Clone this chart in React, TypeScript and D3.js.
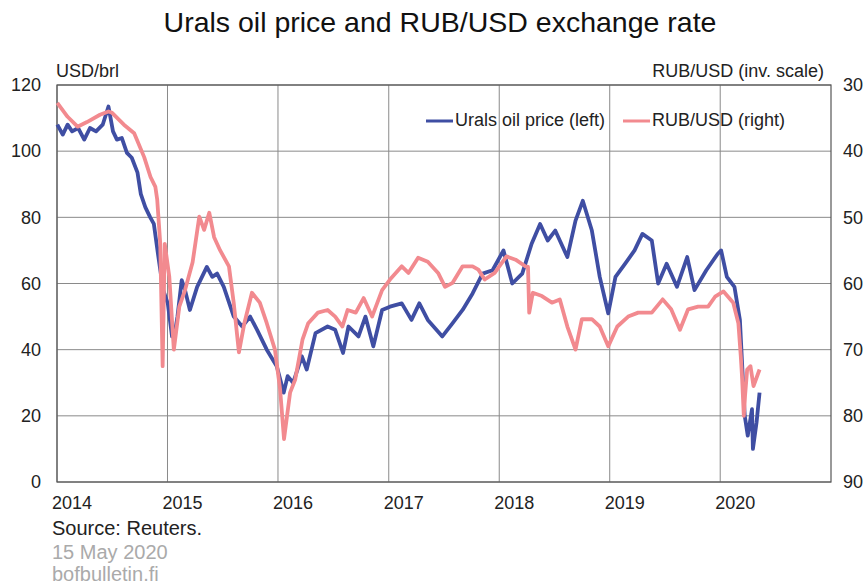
import React, { useEffect } from 'react';
import * as d3 from 'd3';

const uralsDates = [
  '2014-01-02', '2014-01-20', '2014-02-05', '2014-02-20', '2014-03-12', '2014-04-01', '2014-04-20', '2014-05-10',
  '2014-06-01', '2014-06-20', '2014-07-05', '2014-07-18', '2014-08-03', '2014-08-20', '2014-09-05', '2014-09-24',
  '2014-10-05', '2014-10-20', '2014-11-05', '2014-11-17', '2014-12-02', '2014-12-18', '2015-01-02', '2015-01-16',
  '2015-01-27', '2015-02-03', '2015-02-17', '2015-02-28', '2015-03-16', '2015-04-09', '2015-05-11', '2015-05-29',
  '2015-06-14', '2015-07-06', '2015-08-08', '2015-09-05', '2015-10-01', '2015-10-24', '2015-11-25', '2015-12-28',
  '2016-01-20', '2016-02-02', '2016-02-20', '2016-03-20', '2016-04-05', '2016-05-04', '2016-06-13', '2016-07-08',
  '2016-08-03', '2016-08-21', '2016-09-23', '2016-10-16', '2016-11-11', '2016-12-10', '2017-01-05', '2017-02-13',
  '2017-03-17', '2017-04-12', '2017-05-10', '2017-06-27', '2017-07-31', '2017-09-02', '2017-10-05', '2017-11-07',
  '2017-12-10', '2018-01-15', '2018-02-13', '2018-03-18', '2018-04-18', '2018-05-16', '2018-06-10', '2018-07-05',
  '2018-08-14', '2018-09-10', '2018-10-04', '2018-11-03', '2018-11-29', '2018-12-27', '2019-01-20', '2019-02-21',
  '2019-03-24', '2019-04-19', '2019-05-20', '2019-06-10', '2019-07-08', '2019-08-11', '2019-09-14', '2019-10-08',
  '2019-11-16', '2019-12-24', '2020-01-04', '2020-01-23', '2020-02-17', '2020-03-06', '2020-03-22', '2020-04-01',
  '2020-04-15', '2020-04-18', '2020-04-30', '2020-05-10',
];
const uralsValues = [
  108, 105, 108, 106, 107, 103.5, 107, 106,
  108, 113.5, 106, 103.5, 104, 99.5, 98, 93.5,
  87, 83, 80, 78, 68, 58, 54, 44,
  46, 50, 61, 58, 52, 59, 65, 62,
  63, 59, 50, 47, 50, 46, 40, 35,
  27, 32, 30, 38, 34, 45, 47, 46,
  39, 47, 44, 50, 41, 52, 53, 54,
  49, 54, 49, 44, 48, 52, 57, 63,
  64, 70, 60, 63, 72, 78, 73, 76,
  68, 79, 85, 76, 62, 51, 62, 66,
  70, 75, 73, 60, 66, 59, 68, 58,
  64, 69, 70, 62, 59, 49, 20, 14,
  22, 10, 18, 27,
];

const rubDates = [
  '2014-01-02', '2014-02-05', '2014-03-10', '2014-04-10', '2014-05-23', '2014-06-20', '2014-07-02', '2014-08-10',
  '2014-09-13', '2014-10-16', '2014-11-06', '2014-11-22', '2014-11-28', '2014-12-08', '2014-12-16', '2014-12-23',
  '2015-01-07', '2015-01-22', '2015-02-09', '2015-02-28', '2015-03-25', '2015-04-16', '2015-05-02', '2015-05-19',
  '2015-06-04', '2015-06-24', '2015-07-23', '2015-08-08', '2015-08-25', '2015-09-12', '2015-10-07', '2015-11-02',
  '2015-11-25', '2015-12-22', '2016-01-08', '2016-01-21', '2016-02-10', '2016-02-27', '2016-03-22', '2016-04-10',
  '2016-05-12', '2016-06-13', '2016-07-08', '2016-08-01', '2016-08-18', '2016-09-14', '2016-10-10', '2016-11-07',
  '2016-12-10', '2017-01-05', '2017-02-13', '2017-03-07', '2017-04-08', '2017-05-10', '2017-06-13', '2017-07-06',
  '2017-07-31', '2017-09-02', '2017-10-05', '2017-10-24', '2017-11-14', '2017-12-17', '2018-01-25', '2018-02-24',
  '2018-03-28', '2018-04-06', '2018-04-10', '2018-04-22', '2018-05-22', '2018-06-24', '2018-07-20', '2018-08-14',
  '2018-09-10', '2018-10-01', '2018-11-03', '2018-11-29', '2018-12-27', '2019-01-26', '2019-03-03', '2019-04-05',
  '2019-05-20', '2019-06-25', '2019-07-23', '2019-08-21', '2019-09-17', '2019-10-20', '2019-11-22', '2019-12-15',
  '2020-01-12', '2020-02-13', '2020-03-01', '2020-03-09', '2020-03-13', '2020-03-19', '2020-03-23', '2020-03-30',
  '2020-04-10', '2020-04-20', '2020-05-10',
];
const rubValues = [
  32.7, 34.8, 36.3, 35.6, 34.5, 34.0, 34.2, 36,
  37.3, 40.9, 43.9, 45.4, 47.3, 53.9, 72.5, 54,
  59, 70, 63.5, 61, 56.8, 49.9, 51.9, 49.3,
  53, 55, 57.4, 63, 70.4, 66, 61.4, 62.9,
  66, 70, 76, 83.5, 76.5, 74.5, 68.5, 66,
  64.4, 64, 65, 66.5, 64, 64.4, 62.2, 65,
  61, 59.4, 57.4, 58.4, 56.1, 56.7, 58.4, 60.5,
  59.9, 57.4, 57.4, 57.9, 59.4, 58.4, 55.9, 56.4,
  57.4, 57.5, 64.4, 61.4, 61.9, 62.9, 62.4, 66.5,
  70, 65.4, 65.4, 66.5, 69.5, 66.5, 65, 64.4,
  64.4, 62.4, 63.9, 67, 63.9, 63.5, 63.5, 62,
  61.2, 62.9, 66, 71, 74, 80, 77, 73,
  72.5, 75.5, 73,
];

const yearTicks = [2014, 2015, 2016, 2017, 2018, 2019, 2020];
const leftTicks = [0, 20, 40, 60, 80, 100, 120];
const rightTicks = [30, 40, 50, 60, 70, 80, 90];

const FONT = '"Liberation Sans", Arial, Helvetica, sans-serif';
const BLUE = '#3f4ea3';
const PINK = '#f28a8f';

export default function App() {
  useEffect(() => {
    document.body.style.margin = '0';
  }, []);

  const width = 868;
  const height = 586;
  const m = { left: 57, right: 831, top: 85, bottom: 482 };

  const parse = d3.timeParse('%Y-%m-%d');
  const x = d3
    .scaleTime()
    .domain([new Date(2014, 0, 1), new Date(2021, 0, 1)])
    .range([m.left, m.right]);
  const yL = d3.scaleLinear().domain([0, 120]).range([m.bottom, m.top]);
  const yR = d3.scaleLinear().domain([90, 30]).range([m.bottom, m.top]);

  const urals = uralsDates.map((d, i) => [parse(d) as Date, uralsValues[i]] as [Date, number]);
  const rub = rubDates.map((d, i) => [parse(d) as Date, rubValues[i]] as [Date, number]);

  const lineL = d3.line<[Date, number]>().x((d) => x(d[0])).y((d) => yL(d[1]));
  const lineR = d3.line<[Date, number]>().x((d) => x(d[0])).y((d) => yR(d[1]));

  return (
    <svg width={width} height={height} style={{ display: 'block', background: '#fff' }} fontFamily={FONT}>
      <text x={440} y={32} textAnchor="middle" fontSize={28.5} fill="#111">
        Urals oil price and RUB/USD exchange rate
      </text>
      <text x={56} y={77} fontSize={18} fill="#222">USD/brl</text>
      <text x={824} y={77} fontSize={18} fill="#222" textAnchor="end">RUB/USD (inv. scale)</text>

      {leftTicks.map((t) => (
        <g key={'l' + t}>
          <line x1={m.left} x2={m.right} y1={yL(t)} y2={yL(t)} stroke="#8a8a8a" strokeWidth={1} />
          <text x={41} y={yL(t)} dy="0.35em" textAnchor="end" fontSize={18} fill="#222">{t}</text>
        </g>
      ))}
      {rightTicks.map((t) => (
        <text key={'r' + t} x={843} y={yR(t)} dy="0.35em" fontSize={18} fill="#222">{t}</text>
      ))}
      {yearTicks.map((yr) => {
        const px = x(new Date(yr, 0, 1));
        return (
          <g key={'x' + yr}>
            <line x1={px} x2={px} y1={m.top} y2={m.bottom} stroke="#8a8a8a" strokeWidth={1} />
            <text x={px - 5} y={509} fontSize={18} fill="#222">{yr}</text>
          </g>
        );
      })}
      <rect x={m.left} y={m.top} width={m.right - m.left} height={m.bottom - m.top} fill="none" stroke="#555" strokeWidth={1.2} />

      <path d={lineL(urals) || ''} fill="none" stroke={BLUE} strokeWidth={3.8} strokeLinejoin="round" />
      <path d={lineR(rub) || ''} fill="none" stroke={PINK} strokeWidth={3.8} strokeLinejoin="round" />

      <line x1={426} x2={453} y1={121} y2={121} stroke={BLUE} strokeWidth={3} />
      <text x={455} y={126} fontSize={18} fill="#222">Urals oil price (left)</text>
      <line x1={623} x2={650} y1={121} y2={121} stroke={PINK} strokeWidth={3} />
      <text x={652} y={126} fontSize={18} fill="#222">RUB/USD (right)</text>

      <text x={52} y={535} fontSize={20} fill="#222">Source: Reuters.</text>
      <text x={52} y={559} fontSize={20} fill="#aaa">15 May 2020</text>
      <text x={52} y={581} fontSize={20} fill="#aaa">bofbulletin.fi</text>
    </svg>
  );
}
